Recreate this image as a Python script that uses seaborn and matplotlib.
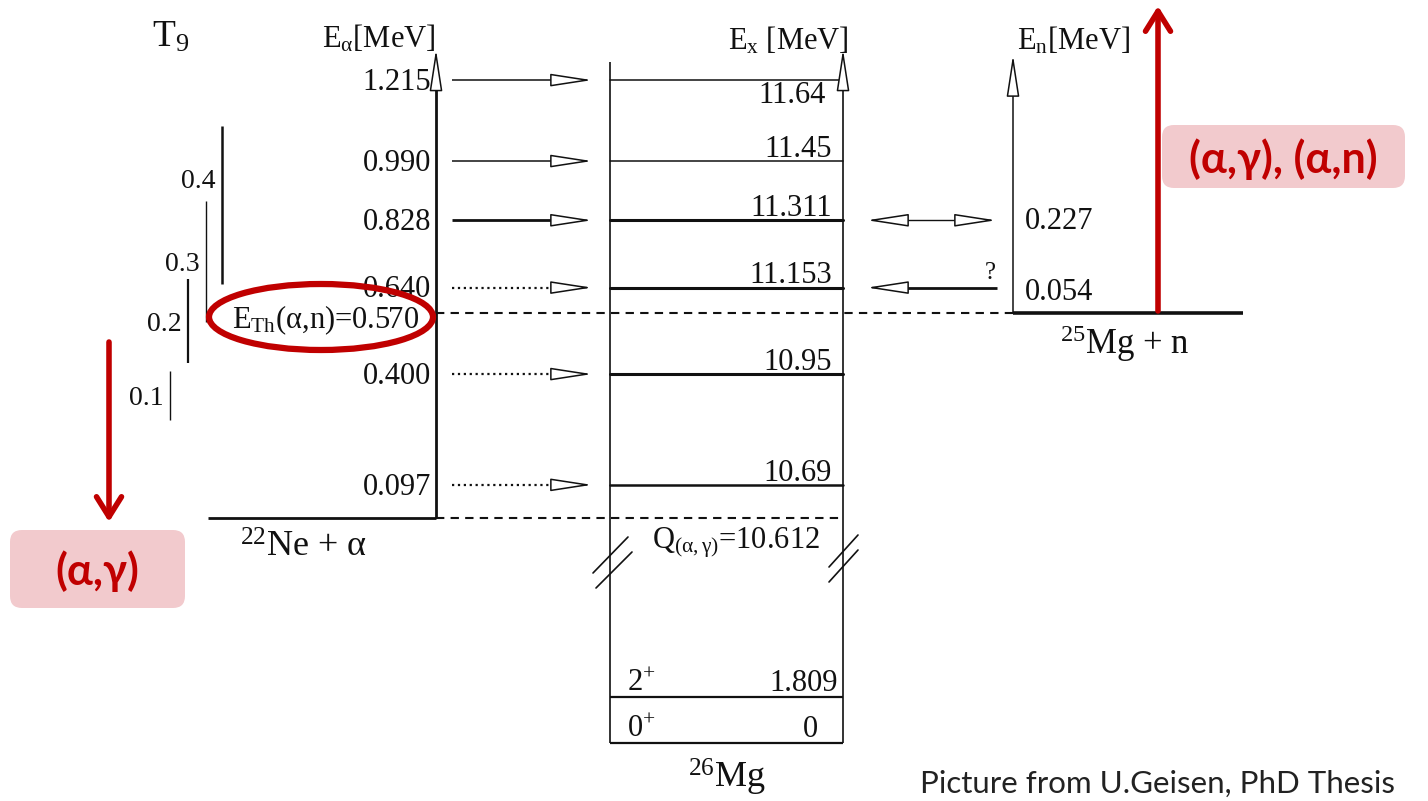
import matplotlib
matplotlib.use("Agg")
import numpy as np
import pandas as pd
import matplotlib.pyplot as plt
from matplotlib.patches import Ellipse, FancyBboxPatch
import seaborn as sns

# ---- level data (MeV) ----
ex_levels = [11.64, 11.45, 11.311, 11.153, 10.95, 10.69]          # 26Mg states above alpha threshold
ex_labels = ["11.64", "11.45", "11.311", "11.153", "10.95", "10.69"]
e_alpha_lab = [1.215, 0.990, 0.828, 0.640, 0.400, 0.097]          # resonance energies, lab
q_alpha_gamma = 10.612
e_th_alpha_n = 0.570                                               # (a,n) threshold, lab
en_levels = [0.227, 0.054]                                         # neutron energies
en_partner = [11.311, 11.153]                                      # 26Mg states they feed
low_levels = [1.809, 0.0]
low_labels = ["1.809", "0"]
low_spins = ["2", "0"]
t9_labels = ["0.4", "0.3", "0.2", "0.1"]
t9_lo = [0.55, 0.46, 0.365, 0.23]                                  # Gamow windows, E_cm
t9_hi = [0.92, 0.745, 0.56, 0.345]

# ---- styles ----
level_lw = [1.1, 1.1, 2.2, 2.2, 2.2, 1.8]
arrow_ls = ["-", "-", "-", ":", ":", ":"]
arrow_lw = [1.1, 1.1, 2.0, 1.6, 1.6, 1.6]
t9_lw = [1.8, 1.0, 1.6, 1.0]
t9_label_pos = [0.33, 0.5, 0.5, 0.5]
INK = "#111111"
RED = "#C00000"
PINK = "#F2CACD"
FS = 22

sns.set_theme(style="white")
plt.rcParams["font.family"] = ["Liberation Serif", "DejaVu Serif"]
plt.rcParams["mathtext.fontset"] = "custom"
plt.rcParams["mathtext.rm"] = "Liberation Serif"
plt.rcParams["mathtext.it"] = "Liberation Serif"
plt.rcParams["mathtext.bf"] = "Liberation Serif:bold"
plt.rcParams["text.color"] = INK

W, H = 1428, 801
fig = plt.figure(figsize=(W / 100, H / 100), dpi=100)
ax = fig.add_axes([0, 0, 1, 1])    # E_cm above the 22Ne+alpha threshold
low = fig.add_axes([0, 0, 1, 1])   # low-lying 26Mg states (broken scale)
ov = fig.add_axes([0, 0, 1, 1])    # annotation layer, pixel units
for a in (ax, low, ov):
    a.set_axis_off()
    a.patch.set_alpha(0)

to_cm = 22.0 / 26.0
y_lev = [e - q_alpha_gamma for e in ex_levels]
y_th = e_th_alpha_n * to_cm
y_en = [y_th + en * 25.0 / 26.0 for en in en_levels]

X_T9 = [222, 206, 188, 170]
X_EA = 436
X_BL, X_BR = 610, 843
X_EN = 1013
Y_TOP = 1.10
Y_BREAK = -0.11

head = dict(arrowstyle="-|>,head_length=26,head_width=4", mutation_scale=1,
            fc="white", ec=INK, lw=1.1, shrinkA=0, shrinkB=0)


def hollow_head(a, x, y, dx, dy):
    a.annotate("", xy=(x, y), xytext=(dx, dy), textcoords="offset points",
               arrowprops=head, zorder=5)


# ---- Gamow windows ----
for i, lab in enumerate(t9_labels):
    ax.vlines(X_T9[i], t9_lo[i], t9_hi[i], color=INK, lw=t9_lw[i])
    yl = t9_hi[i] - (t9_hi[i] - t9_lo[i]) * t9_label_pos[i]
    ax.annotate(lab, xy=(X_T9[i] - 6, yl), xytext=(0, -7), textcoords="offset points",
                ha="right", va="baseline", fontsize=FS - 2)

# ---- 22Ne + alpha column ----
ax.hlines(0, 208, X_EA, color=INK, lw=2.0)
ax.vlines(X_EA, 0, Y_TOP - 0.085, color=INK, lw=2.0)
hollow_head(ax, X_EA, Y_TOP, 0, -27)
for y, e in zip(y_lev, e_alpha_lab):
    ax.annotate(f"{e:.3f}", xy=(X_EA - 5, y), xytext=(0, -7), textcoords="offset points",
                ha="right", va="baseline", fontsize=FS)
for i, y in enumerate(y_lev):
    ax.plot([452, 556], [y, y], color=INK, lw=arrow_lw[i], ls=arrow_ls[i],
            solid_capstyle="butt")
    hollow_head(ax, 592, y, -26, 0)

# thresholds
ax.hlines(0, X_EA, X_BR, color=INK, lw=1.5, linestyles=(0, (4, 3)))
ax.hlines(y_th, X_EA, X_EN, color=INK, lw=1.5, linestyles=(0, (4, 3)))
ax.annotate(r"E$_{\mathrm{Th}}$(α,n)=0.570", xy=(232, y_th), xytext=(0, -11.5),
            textcoords="offset points", ha="left", va="baseline", fontsize=FS)

# ---- 26Mg column ----
lev_df = pd.DataFrame({
    "level": np.repeat(ex_labels, 2),
    "x": np.tile([X_BL, X_BR], len(ex_levels)),
    "E": np.repeat(y_lev, 2),
    "weight": np.repeat(level_lw, 2),
})
sns.lineplot(data=lev_df, x="x", y="E", units="level", estimator=None, size="weight",
             sizes=(min(level_lw), max(level_lw)), color=INK, legend=False, ax=ax,
             sort=False)
ax.vlines(X_BL, Y_BREAK, 1.07, color=INK, lw=1.2)
ax.vlines(X_BR, Y_BREAK, Y_TOP - 0.085, color=INK, lw=1.2)
hollow_head(ax, X_BR, Y_TOP, 0, -27)
for i, (y, lab) in enumerate(zip(y_lev, ex_labels)):
    if i == 0:
        ax.annotate(lab, xy=(826, y), xytext=(0, -1), textcoords="offset points",
                    ha="right", va="top", fontsize=FS)
    else:
        ax.annotate(lab, xy=(832, y), xytext=(0, 3), textcoords="offset points",
                    ha="right", va="baseline", fontsize=FS)
ax.annotate(r"Q$_{\mathrm{(α,γ)}}$=10.612", xy=(652, 0), xytext=(0, -5),
            textcoords="offset points", ha="left", va="top", fontsize=FS)
ax.annotate(r"$^{22}$Ne + α", xy=(240, 0), xytext=(0, -10),
            textcoords="offset points", ha="left", va="top", fontsize=FS + 4)

# low-lying part below the break
low.vlines([X_BL, X_BR], 0, 7.0, color=INK, lw=1.2)
low.hlines(low_levels, X_BL, X_BR, color=INK, lw=1.6)
for lv, lab, sp in zip(low_levels, low_labels, low_spins):
    low.annotate(lab, xy=(838 if lab != "0" else 818, lv), xytext=(0, 4),
                 textcoords="offset points", ha="right", va="baseline", fontsize=FS)
    low.annotate(sp + r"$^{+}$", xy=(627, lv), xytext=(0, 4),
                 textcoords="offset points", ha="left", va="baseline", fontsize=FS)

# ---- 25Mg + n column ----
ax.hlines(y_th, X_EN, 1243, color=INK, lw=2.6)
ax.vlines(X_EN, y_th, 1.087 - 0.085, color=INK, lw=1.1)
hollow_head(ax, X_EN, 1.087, 0, -27)
for y, en in zip(y_en, en_levels):
    ax.annotate(f"{en:.3f}", xy=(1025, y), xytext=(0, -7), textcoords="offset points",
                ha="left", va="baseline", fontsize=FS)
ax.annotate(r"$^{25}$Mg + n", xy=(1060, y_th), xytext=(0, -8),
            textcoords="offset points", ha="left", va="top", fontsize=FS + 3)

# neutron-channel arrows
y_a = y_lev[ex_levels.index(en_partner[0])]
y_b = y_lev[ex_levels.index(en_partner[1])]
ax.plot([903, 960], [y_a, y_a], color=INK, lw=1.0)
hollow_head(ax, 867, y_a, 26, 0)
hollow_head(ax, 996, y_a, -26, 0)
ax.plot([903, 997], [y_b, y_b], color=INK, lw=2.0, solid_capstyle="butt")
hollow_head(ax, 867, y_b, 26, 0)
ax.annotate("?", xy=(990, y_b), xytext=(0, 6), textcoords="offset points",
            ha="center", va="baseline", fontsize=FS - 4)

ax.set_xlim(0, W)
ax.set_ylim(-0.664, 1.216)
low.set_xlim(0, W)
low.set_ylim(-2.281, 29.22)

# ---- annotation layer (pixel units) ----
ov.set_xlim(0, W)
ov.set_ylim(H, 0)
ov.text(152, 47, r"T$_9$", fontsize=FS + 5, ha="left", va="baseline")
ov.text(322, 47, r"E$_α$[MeV]", fontsize=FS, ha="left", va="baseline")
ov.text(728, 49, r"E$_\mathrm{x}$ [MeV]", fontsize=FS, ha="left", va="baseline")
ov.text(1017, 50, r"E$_\mathrm{n}$[MeV]", fontsize=FS, ha="left", va="baseline")
ov.text(688, 788, r"$^{26}$Mg", fontsize=FS + 4, ha="left", va="baseline")
for seg in ([(593, 573), (628, 537)], [(596, 588), (632, 552)],
            [(829, 567), (858, 535)], [(829, 582), (858, 550)]):
    (x0, y0), (x1, y1) = seg
    ov.plot([x0, x1], [y0, y1], color=INK, lw=1.2)

ov.add_patch(Ellipse((321, 317), 224, 66, fill=False, ec=RED, lw=4.5, zorder=10))
red_arrow = dict(arrowstyle="->,head_length=0.72,head_width=0.45", mutation_scale=20,
                 color=RED, lw=4, shrinkA=0, shrinkB=0)
ov.annotate("", xy=(109, 522), xytext=(109, 342), arrowprops=red_arrow)
ov.annotate("", xy=(1158, 6), xytext=(1158, 311), arrowprops=red_arrow)
ov.add_patch(FancyBboxPatch((10, 530), 175, 78, boxstyle="round,pad=0,rounding_size=12",
                            fc=PINK, ec="none"))
ov.add_patch(FancyBboxPatch((1162, 125), 243, 63, boxstyle="round,pad=0,rounding_size=12",
                            fc=PINK, ec="none"))
red_font = dict(family=["Lato", "DejaVu Sans"], weight="bold", color=RED, fontsize=31)
ov.text(97, 571, "(α,γ)", ha="center", va="center", **red_font)
ov.text(1283, 159, "(α,γ), (α,n)", ha="center", va="center", **red_font)
ov.text(920, 793, "Picture from U.Geisen, PhD Thesis", ha="left", va="baseline",
        fontsize=22.5, family=["Lato", "DejaVu Sans"], color="#222222")

fig.savefig("out.png", dpi=100)
